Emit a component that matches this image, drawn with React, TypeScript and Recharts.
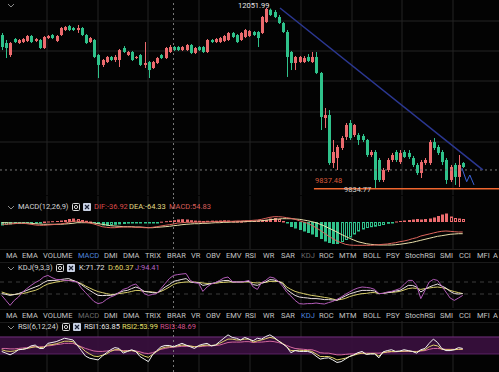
import React from "react";
import {
  ComposedChart,
  Bar,
  Line,
  XAxis,
  YAxis,
  CartesianGrid,
  ReferenceLine,
  ReferenceArea,
} from "recharts";

// candle prices, one entry per session
const opens = [
  11721, 11623, 11476, 11672, 11623, 11635, 11648, 11709, 11648, 11660,
  11562, 11684, 11721, 11648, 11721, 11782, 11831, 11807, 11782, 11807,
  11721, 11635, 11660, 11476, 11354, 11390, 11452, 11415, 11415, 11562,
  11476, 11513, 11439, 11476, 11354, 11390, 11317, 11378, 11476, 11439,
  11513, 11574, 11574, 11537, 11537, 11599, 11501, 11574, 11574, 11513,
  11660, 11635, 11635, 11648, 11660, 11746, 11721, 11660, 11697, 11709,
  11758, 11758, 11746, 11880, 12030, 12003, 11942, 11868, 11758, 11513,
  11378, 11390, 11390, 11452, 11390, 11452, 11256, 10704, 10741, 10153,
  10214, 10337, 10472, 10643, 10496, 10496, 10484, 10435, 10251, 10288,
  10190, 9945, 10067, 10190, 10288, 10165, 10288, 10276, 10214, 10129,
  10031, 10153, 10153, 10410, 10349, 10288, 10190, 9945, 10129, 9982, 10153,
];
const highs = [
  11746, 11660, 11635, 11684, 11672, 11684, 11721, 11721, 11684, 11672,
  11709, 11721, 11733, 11721, 11819, 11831, 11844, 11819, 11844, 11819,
  11733, 11697, 11672, 11488, 11427, 11464, 11464, 11476, 11550, 11586,
  11525, 11525, 11464, 11488, 11635, 11403, 11403, 11452, 11488, 11574,
  11599, 11586, 11586, 11586, 11611, 11611, 11574, 11586, 11586, 11672,
  11672, 11684, 11697, 11721, 11758, 11758, 11733, 11758, 11795, 11782,
  11770, 11770, 11954, 12051.99, 12045, 12027, 11966, 11880, 11782, 11525,
  11464, 11464, 11464, 11488, 11513, 11513, 11268, 10827, 10802, 10435,
  10374, 10484, 10643, 10680, 10631, 10521, 10508, 10447, 10312, 10312,
  10214, 10092, 10214, 10276, 10312, 10312, 10312, 10312, 10239, 10153,
  10190, 10214, 10435, 10459, 10374, 10312, 10214, 10129, 10153, 10251, 10165,
];
const lows = [
  11537, 11439, 11452, 11623, 11611, 11623, 11635, 11623, 11635, 11550,
  11550, 11672, 11672, 11635, 11709, 11770, 11770, 11770, 11746, 11709,
  11611, 11623, 11439, 11194, 11329, 11378, 11403, 11390, 11329, 11501,
  11464, 11403, 11427, 11341, 11317, 11194, 11305, 11366, 11427, 11427,
  11501, 11525, 11525, 11525, 11525, 11488, 11488, 11525, 11501, 11501,
  11623, 11623, 11623, 11635, 11648, 11684, 11623, 11648, 11684, 11697,
  11709, 11574, 11733, 11868, 11954, 11929, 11856, 11746, 11207, 11292,
  11292, 11378, 11378, 11390, 11378, 11243, 10557, 10582, 10129, 10092,
  10067, 10312, 10435, 10435, 10472, 10374, 10410, 10227, 10227, 9834.77,
  9920, 9920, 10043, 10165, 10165, 10141, 10214, 10202, 10104, 10006,
  9969, 10129, 10129, 10312, 10251, 10129, 9896, 9920, 9884, 9859, 10092,
];
const closes = [
  11574, 11562, 11623, 11635, 11660, 11672, 11709, 11635, 11672, 11562,
  11697, 11709, 11684, 11709, 11807, 11819, 11782, 11782, 11807, 11721,
  11623, 11684, 11452, 11354, 11415, 11452, 11415, 11452, 11537, 11513,
  11513, 11415, 11452, 11354, 11378, 11292, 11390, 11439, 11439, 11562,
  11574, 11537, 11537, 11574, 11599, 11501, 11562, 11537, 11513, 11660,
  11635, 11672, 11684, 11709, 11746, 11697, 11635, 11746, 11782, 11770,
  11721, 11684, 11942, 12040, 11966, 11942, 11868, 11758, 11452, 11378,
  11452, 11452, 11439, 11403, 11452, 11256, 10717, 10741, 10153, 10288,
  10349, 10459, 10619, 10459, 10619, 10435, 10435, 10251, 10288, 9945,
  9945, 10067, 10190, 10251, 10190, 10276, 10227, 10227, 10129, 10031,
  10165, 10190, 10410, 10337, 10276, 10165, 9945, 10104, 9982, 10129, 10104,
];

// MACD(12,26,9)
const macdHist = [
  -35, -30, -25, -20, -20, -18, -15, -15, -12, -10,
  5, 5, 8, 10, 15, 20, 30, 35, 30, 20,
  12, 5, -5, -20, -35, -38, -32, -28, -24, -20,
  -16, -13, -10, -8, -5, -4, -3, -2, 3, 8,
  12, 18, 25, 28, 25, 18, 14, 12, 10, 12,
  14, 13, 15, 17, 15, 10, 9, 8, 8, 10,
  12, 15, 18, 22, 35, 40, 30, 10, -15, -50,
  -65, -80, -95, -110, -125, -150, -170, -195, -210, -220,
  -220, -200, -180, -155, -125, -95, -75, -60, -52, -47,
  -40, -30, -18, -5, 5, 10, 15, 20, 25, 30,
  25, 30, 35, 45, 60, 75, 85, 55, 40, 35, 30,
];
const difValues = [
  -23, -23, -20, -17, -13, -13, -17, -23, -30, -33,
  -33, -30, -27, -23, -20, -13, -3, 7, 10, 3,
  -3, -10, -20, -33, -47, -53, -57, -57, -53, -50,
  -50, -50, -53, -53, -57, -57, -53, -47, -40, -33,
  -27, -20, -10, -7, -3, -3, -3, 0, 0, 0,
  3, 3, 3, 7, 7, 7, 10, 10, 13, 13,
  17, 20, 27, 37, 47, 53, 53, 50, 43, 37,
  27, 13, 0, -13, -33, -57, -83, -113, -140, -167,
  -190, -207, -223, -230, -233, -233, -233, -233, -233, -230,
  -227, -223, -220, -213, -207, -197, -190, -180, -167, -157,
  -140, -130, -120, -110, -100, -93, -90, -93, -97, -100, -100,
];
const deaValues = [
  -7, -7, -10, -10, -10, -10, -10, -13, -17, -20,
  -23, -23, -23, -23, -23, -20, -17, -13, -7, -7,
  -7, -7, -10, -17, -23, -30, -37, -40, -43, -47,
  -47, -47, -50, -50, -53, -57, -57, -53, -50, -47,
  -43, -37, -33, -27, -23, -20, -17, -17, -13, -13,
  -10, -7, -7, -3, -3, 0, 0, 3, 3, 7,
  7, 10, 13, 17, 23, 27, 30, 33, 33, 33,
  30, 27, 20, 13, 3, -7, -23, -40, -60, -80,
  -100, -123, -143, -163, -180, -197, -207, -217, -223, -227,
  -230, -230, -230, -230, -227, -223, -217, -210, -203, -193,
  -183, -173, -163, -153, -143, -137, -130, -123, -120, -117, -117,
];

// KDJ(9,3,3)
const kValues = [
  22, 18, 13, 17, 22, 30, 38, 47, 55, 63,
  77, 87, 88, 88, 92, 95, 97, 88, 80, 67,
  52, 38, 25, 13, 12, 13, 13, 17, 27, 35,
  38, 47, 55, 47, 33, 30, 27, 25, 38, 55,
  67, 83, 88, 93, 97, 80, 77, 77, 63, 67,
  72, 77, 83, 87, 88, 80, 80, 80, 82, 83,
  67, 63, 73, 80, 92, 90, 83, 72, 43, 27,
  13, 5, 2, 0, -3, -3, -5, -8, -8, -10,
  -12, 0, 10, 20, 27, 33, 38, 38, 38, 35,
  22, 23, 27, 30, 35, 38, 50, 63, 63, 55,
  30, 43, 55, 63, 70, 60, 50, 33, 22, 20, 22,
];
const dValues = [
  30, 23, 17, 18, 20, 22, 27, 33, 38, 47,
  60, 70, 75, 80, 83, 87, 88, 87, 80, 72,
  60, 50, 40, 32, 27, 22, 18, 18, 22, 25,
  28, 33, 38, 37, 33, 32, 30, 27, 33, 43,
  55, 68, 75, 78, 80, 80, 80, 78, 75, 73,
  72, 73, 77, 78, 80, 80, 80, 80, 80, 80,
  77, 75, 77, 78, 83, 83, 83, 77, 55, 43,
  33, 27, 22, 17, 13, 10, 7, 3, 0, -5,
  -10, -7, -2, 7, 13, 18, 22, 23, 27, 27,
  22, 23, 27, 28, 30, 33, 40, 47, 50, 48,
  43, 47, 50, 53, 55, 52, 47, 38, 32, 27, 22,
];
const jValues = [
  13, -12, -37, -12, 5, 30, 47, 63, 77, 88,
  105, 113, 102, 93, 92, 88, 87, 83, 80, 50,
  27, 5, -17, -28, -23, -7, 5, 13, 27, 43,
  50, 63, 70, 47, 22, 13, 18, 22, 47, 72,
  97, 113, 117, 120, 122, 88, 77, 73, 33, 55,
  70, 77, 88, 100, 105, 83, 80, 80, 83, 88,
  55, 43, 77, 88, 105, 100, 83, 60, 30, 10,
  -12, -28, -30, -28, -28, -25, -28, -30, -23, -17,
  -7, 5, 18, 30, 42, 50, 55, 53, 50, 43,
  22, 23, 30, 33, 40, 47, 67, 88, 88, 63,
  -3, 38, 80, 93, 88, 60, 30, 0, -12, 0, 13,
];

// RSI(6,12,24)
const rsi1 = [
  36, 32, 28, 33, 40, 41, 43, 49, 51, 43,
  43, 55, 57, 59, 63, 67, 65, 63, 51, 38,
  25, 20, 18, 16, 25, 33, 40, 45, 43, 32,
  36, 40, 36, 24, 18, 12, 28, 38, 47, 50,
  50, 47, 51, 55, 51, 47, 43, 50, 53, 55,
  49, 51, 59, 67, 75, 69, 67, 63, 69, 65,
  61, 67, 65, 71, 75, 69, 61, 54, 47, 33,
  38, 36, 36, 36, 33, 25, 18, 20, 21, 16,
  10, 12, 18, 24, 28, 33, 36, 29, 30, 30,
  21, 35, 38, 40, 36, 37, 40, 38, 36, 32,
  40, 43, 55, 65, 57, 43, 38, 38, 40, 45, 43,
];
const rsi2 = [
  40, 37, 36, 37, 40, 41, 43, 45, 47, 45,
  46, 51, 52, 54, 57, 60, 60, 59, 51, 45,
  36, 30, 25, 24, 27, 30, 36, 40, 40, 36,
  37, 38, 36, 30, 25, 22, 29, 36, 43, 46,
  47, 47, 49, 51, 50, 49, 47, 48, 50, 51,
  50, 51, 55, 60, 65, 65, 63, 63, 65, 65,
  58, 61, 63, 66, 69, 67, 61, 55, 47, 38,
  38, 39, 38, 38, 36, 30, 24, 24, 24, 21,
  16, 18, 20, 24, 27, 30, 32, 30, 31, 31,
  25, 33, 35, 36, 36, 36, 37, 37, 36, 35,
  38, 40, 47, 51, 49, 41, 40, 40, 40, 41, 41,
];
const rsi3 = [
  43, 43, 42, 42, 43, 44, 45, 47, 47, 47,
  47, 49, 50, 52, 53, 55, 55, 55, 51, 47,
  43, 40, 37, 36, 36, 37, 38, 39, 39, 38,
  38, 38, 37, 35, 32, 31, 33, 37, 41, 43,
  45, 46, 47, 48, 48, 48, 47, 47, 48, 49,
  49, 50, 51, 54, 57, 58, 58, 58, 59, 59,
  57, 58, 58, 59, 60, 59, 57, 54, 50, 46,
  43, 42, 41, 40, 40, 37, 33, 32, 32, 30,
  28, 28, 29, 30, 30, 32, 32, 32, 32, 32,
  32, 33, 34, 35, 35, 36, 36, 36, 36, 36,
  37, 38, 41, 43, 43, 42, 41, 41, 41, 41, 41,
];

// drawings on the price panel
const trendLine = [
  { i: 66.4, price: 12052 },
  { i: 114.8, price: 10068 },
];
const projection = [
  { i: 109.8, price: 10092 },
  { i: 110.95, price: 9924 },
  { i: 111.7, price: 10006 },
  { i: 112.7, price: 9884 },
];
const supportLevel = { from: 74.5, price: 9837.48 };
const crosshair = { i: 41, price: 10067.5 };

const tabNames = [
  "MA", "EMA", "VOLUME", "MACD", "DMI", "DMA", "TRIX", "BRAR", "VR", "OBV", "EMV", "RSI",
  "WR", "SAR", "KDJ", "ROC", "MTM", "BOLL", "PSY", "StochRSI", "SMI", "CCI", "MFI", "A",
];
const tabLeft = [
  6, 22, 43, 78, 104, 123, 145, 167, 191, 206, 226, 245,
  263, 281, 301, 319, 339, 363, 386, 405, 440, 459, 477, 493,
];

const RED = "#ec6b6e";
const GREEN = "#2fc28b";
const GRID = "#242424";
const FONT = "Roboto, 'Noto Sans', sans-serif";
const X_DOMAIN: [number, number] = [-0.406, 118.66];
const GRID_X = [47, 98, 148, 199, 250, 301, 352, 402, 453];
const NO_MARGIN = { top: 0, right: 0, bottom: 0, left: 0 };
const BODY_W = 3;

const candles = opens.map((open, i) => ({
  i,
  open,
  high: highs[i],
  low: lows[i],
  close: closes[i],
  range: [lows[i], highs[i]],
}));
const macdRows = macdHist.map((hist, i) => ({
  i,
  hist,
  dif: difValues[i],
  dea: deaValues[i],
  solid: i === 0 || Math.abs(hist) >= Math.abs(macdHist[i - 1]),
}));
const kdjRows = kValues.map((k, i) => ({ i, k, d: dValues[i], j: jValues[i] }));
const rsiRows = rsi1.map((r1, i) => ({ i, r1, r2: rsi2[i], r3: rsi3[i] }));

const Candle = (props: any) => {
  const { x, y, width, height, payload } = props;
  const { open, close, high, low } = payload;
  const color = close >= open ? RED : GREEN;
  const span = high - low || 1;
  const toY = (v: number) => y + ((high - v) / span) * height;
  const top = toY(Math.max(open, close));
  const bottom = toY(Math.min(open, close));
  const cx = Math.round(x + width / 2) + 0.5;
  return (
    <g>
      <line x1={cx} x2={cx} y1={y} y2={y + height} stroke={color} strokeWidth={1} />
      <rect
        x={cx - BODY_W / 2}
        y={top}
        width={BODY_W}
        height={Math.max(bottom - top, 1)}
        fill={color}
      />
    </g>
  );
};

const MacdBar = (props: any) => {
  const { x, y, width, height, payload } = props;
  const top = Math.min(y, y + height);
  const h = Math.max(Math.abs(height), 1);
  const color = payload.hist >= 0 ? RED : GREEN;
  const cx = Math.round(x + width / 2) + 0.5;
  if (payload.solid) {
    return <rect x={cx - BODY_W / 2} y={top} width={BODY_W} height={h} fill={color} />;
  }
  return (
    <rect
      x={cx - 1}
      y={top + 0.5}
      width={2}
      height={Math.max(h - 1, 0.5)}
      fill='none'
      stroke={color}
      strokeWidth={1}
    />
  );
};

const Chevron = ({ top }: { top: number }) => (
  <svg width={8} height={6} style={{ position: "absolute", left: 7, top }}>
    <polyline points='1,1 4,4 7,1' fill='none' stroke='#8a8a8a' strokeWidth={1} />
  </svg>
);

const Icons = ({ left, top }: { left: number; top: number }) => (
  <>
    <svg width={8} height={8} style={{ position: "absolute", left, top }}>
      <rect x={0.5} y={0.5} width={7} height={7} rx={1} fill='none' stroke='#d8d8d8' />
      <circle cx={4} cy={4} r={1.6} fill='none' stroke='#d8d8d8' />
    </svg>
    <svg width={8} height={8} style={{ position: "absolute", left: left + 11, top }}>
      <rect x={0} y={0} width={8} height={8} rx={1} fill='#c9d2e4' />
      <path d='M2,2 L6,6 M6,2 L2,6' stroke='#1b2236' strokeWidth={1.2} />
    </svg>
  </>
);

const Label = ({
  left,
  top,
  color,
  children,
}: {
  left: number;
  top: number;
  color: string;
  children: React.ReactNode;
}) => (
  <div
    style={{
      position: "absolute",
      left,
      top,
      color,
      fontSize: 7.5,
      lineHeight: "10px",
      whiteSpace: "nowrap",
      fontFamily: FONT,
    }}
  >
    {children}
  </div>
);

const TabBar = ({ top, active, muted }: { top: number; active: string; muted: string }) => (
  <div
    style={{
      position: "absolute",
      left: 0,
      top,
      width: 499,
      height: 12,
      background: "#000",
      borderTop: "1px solid #1a1a1a",
      borderBottom: "1px solid #1a1a1a",
      overflow: "hidden",
    }}
  >
    {tabNames.map((name, idx) => (
      <Label
        key={name}
        left={tabLeft[idx]}
        top={1}
        color={name === active ? "#4f84dc" : name === muted ? "#6c6c6c" : "#c4c4c4"}
      >
        {name}
      </Label>
    ))}
  </div>
);

const App = () => {
  return (
    <div
      style={{
        position: "fixed",
        left: 0,
        top: 0,
        width: 499,
        height: 372,
        background: "#030303",
        overflow: "hidden",
      }}
    >
      {/* price panel */}
      <div style={{ position: "absolute", left: 0, top: 0 }}>
        <ComposedChart width={499} height={195} data={candles} margin={NO_MARGIN}>
          <CartesianGrid stroke={GRID} horizontalPoints={[21, 51, 81, 112, 142]} verticalPoints={GRID_X} />
          <XAxis type='number' dataKey='i' domain={X_DOMAIN} allowDataOverflow hide />
          <YAxis type='number' domain={[9761, 12150]} allowDataOverflow hide />
          <ReferenceLine x={crosshair.i} stroke='#7a7a7a' strokeDasharray='2 3' />
          <ReferenceLine y={crosshair.price} stroke='#7a7a7a' strokeDasharray='2 3' />
          <Bar dataKey='range' barSize={3} shape={Candle} isAnimationActive={false} />
          <ReferenceLine
            segment={[
              { x: trendLine[0].i, y: trendLine[0].price },
              { x: trendLine[1].i, y: trendLine[1].price },
            ]}
            stroke='#2b3791'
            strokeWidth={1.5}
          />
          <ReferenceLine
            segment={[
              { x: supportLevel.from, y: supportLevel.price },
              { x: X_DOMAIN[1], y: supportLevel.price },
            ]}
            stroke='#f0662f'
            strokeWidth={1.5}
          />
          {projection.slice(1).map((pt, k) => (
            <ReferenceLine
              key={k}
              segment={[
                { x: projection[k].i, y: projection[k].price },
                { x: pt.i, y: pt.price },
              ]}
              stroke='#3b62d6'
              strokeWidth={1}
            />
          ))}
        </ComposedChart>
      </div>
      <Chevron top={3} />
      <Label left={238} top={1} color='#e6e6e6'>
        12051.99
      </Label>
      <Label left={315} top={176} color='#d8593a'>
        9837.48
      </Label>
      <Label left={344} top={185} color='#d0d0d0'>
        9834.77
      </Label>

      {/* MACD panel */}
      <div style={{ position: "absolute", left: 0, top: 196 }}>
        <ComposedChart width={499} height={53} data={macdRows} margin={NO_MARGIN}>
          <CartesianGrid stroke={GRID} horizontal={false} verticalPoints={GRID_X} />
          <XAxis type='number' dataKey='i' domain={X_DOMAIN} allowDataOverflow hide />
          <YAxis type='number' domain={[-270, 260]} allowDataOverflow hide />
          <ReferenceLine x={crosshair.i} stroke='#7a7a7a' strokeDasharray='2 3' />
          <Bar dataKey='hist' barSize={3} shape={MacdBar} isAnimationActive={false} />
          <Line dataKey='dea' stroke='#e9dfaa' strokeWidth={1} dot={false} isAnimationActive={false} />
          <Line dataKey='dif' stroke='#de655d' strokeWidth={1} dot={false} isAnimationActive={false} />
        </ComposedChart>
      </div>
      <Chevron top={205} />
      <Label left={18} top={202} color='#d6d6d6'>MACD(12,26,9)</Label>
      <Icons left={72} top={203} />
      <Label left={94} top={202} color='#dc4b4b'>DIF:-36.92</Label>
      <Label left={129} top={202} color='#e4dc86'>DEA:-64.33</Label>
      <Label left={169} top={202} color='#d95e5a'>MACD:54.83</Label>

      <TabBar top={249} active='MACD' muted='KDJ' />

      {/* KDJ panel */}
      <div style={{ position: "absolute", left: 0, top: 262 }}>
        <ComposedChart width={499} height={46} data={kdjRows} margin={NO_MARGIN}>
          <CartesianGrid stroke={GRID} horizontal={false} verticalPoints={GRID_X} />
          <XAxis type='number' dataKey='i' domain={X_DOMAIN} allowDataOverflow hide />
          <YAxis type='number' domain={[-50, 180]} allowDataOverflow hide />
          <ReferenceLine y={80} stroke='#3c3c3c' strokeDasharray='4 4' />
          <ReferenceLine y={20} stroke='#3c3c3c' strokeDasharray='4 4' />
          <ReferenceLine x={crosshair.i} stroke='#7a7a7a' strokeDasharray='2 3' />
          <Line dataKey='d' stroke='#d9cf6b' strokeWidth={1} dot={false} isAnimationActive={false} />
          <Line dataKey='k' stroke='#e9dfe2' strokeWidth={1} dot={false} isAnimationActive={false} />
          <Line dataKey='j' stroke='#b35cb9' strokeWidth={1} dot={false} isAnimationActive={false} />
        </ComposedChart>
      </div>
      <Chevron top={266} />
      <Label left={18} top={263} color='#d6d6d6'>KDJ(9,3,3)</Label>
      <Icons left={56} top={264} />
      <Label left={79} top={263} color='#e2e2e2'>K:71.72</Label>
      <Label left={108} top={263} color='#e2d66c'>D:60.37</Label>
      <Label left={135} top={263} color='#b463c2'>J:94.41</Label>

      <TabBar top={309} active='KDJ' muted='MACD' />

      {/* RSI panel */}
      <div style={{ position: "absolute", left: 0, top: 321 }}>
        <ComposedChart width={499} height={51} data={rsiRows} margin={NO_MARGIN}>
          <CartesianGrid stroke={GRID} horizontal={false} verticalPoints={GRID_X} />
          <XAxis type='number' dataKey='i' domain={X_DOMAIN} allowDataOverflow hide />
          <YAxis type='number' domain={[-12.4, 107.6]} allowDataOverflow hide />
          <ReferenceArea y1={30} y2={70} fill='#3a103f' fillOpacity={0.9} stroke='none' />
          <ReferenceLine y={70} stroke='#72307e' />
          <ReferenceLine y={30} stroke='#5a2264' />
          <ReferenceLine x={crosshair.i} stroke='#7a7a7a' strokeDasharray='2 3' />
          <Line dataKey='r3' stroke='#d4679f' strokeWidth={1} dot={false} isAnimationActive={false} />
          <Line dataKey='r2' stroke='#e0d36a' strokeWidth={1} dot={false} isAnimationActive={false} />
          <Line dataKey='r1' stroke='#f2f2f2' strokeWidth={1} dot={false} isAnimationActive={false} />
        </ComposedChart>
      </div>
      <Chevron top={325} />
      <Label left={18} top={322} color='#d6d6d6'>RSI(6,12,24)</Label>
      <Icons left={62} top={323} />
      <Label left={84} top={322} color='#e6e6e6'>RSI1:63.85</Label>
      <Label left={122} top={322} color='#e6e06a'>RSI2:53.99</Label>
      <Label left={160} top={322} color='#d2508c'>RSI3:48.69</Label>
    </div>
  );
};

export default App;
